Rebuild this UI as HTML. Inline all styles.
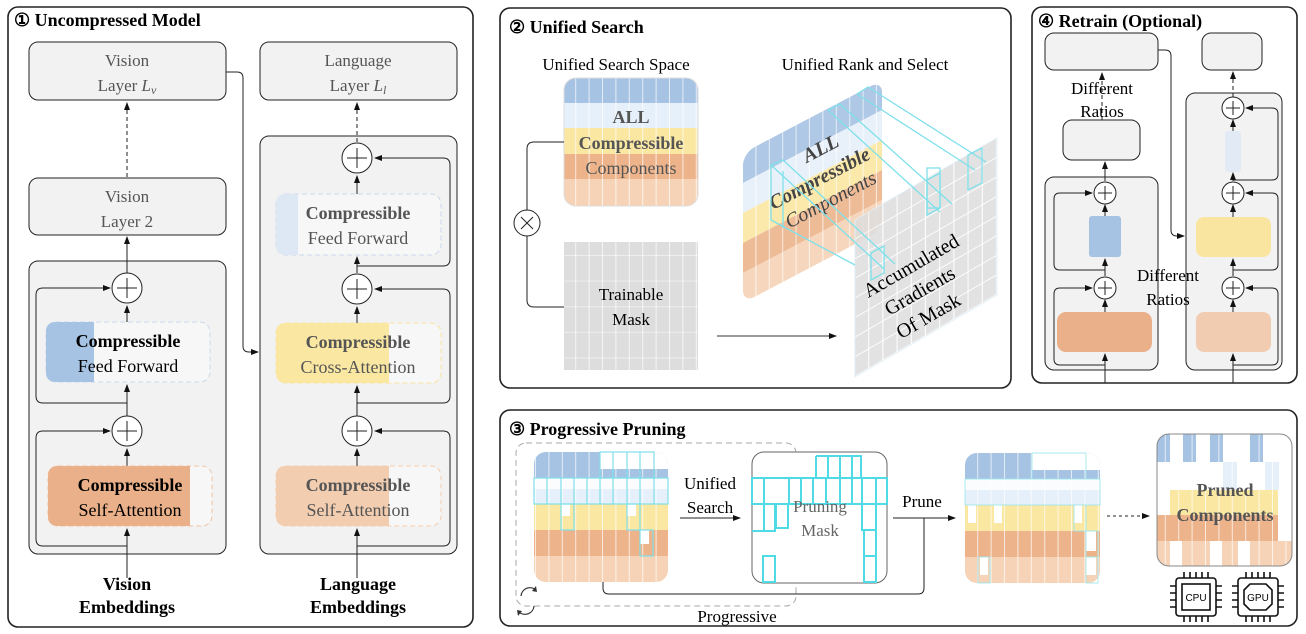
<!DOCTYPE html>
<html><head><meta charset="utf-8"><style>
html,body{margin:0;padding:0;background:#fff;}
svg{display:block;font-family:"Liberation Serif",serif;}
</style></head><body>
<svg width="1306" height="634" viewBox="0 0 1306 634" xmlns="http://www.w3.org/2000/svg">
<defs>
<marker id="ah" markerWidth="8" markerHeight="8" refX="7" refY="4" orient="auto" markerUnits="userSpaceOnUse"><path d="M0,1 L8,4 L0,7 Z" fill="#111"/></marker>
<pattern id="vl" width="13.4" height="10" patternUnits="userSpaceOnUse"><rect x="12.4" y="0" width="1" height="10" fill="#fff" opacity="0.7"/></pattern>
<pattern id="gl" width="13.4" height="25.6" patternUnits="userSpaceOnUse"><rect x="12.4" y="0" width="1" height="25.6" fill="#fff" opacity="0.7"/><rect x="0" y="24.6" width="13.4" height="1" fill="#fff" opacity="0.5"/></pattern>
<pattern id="mk" width="14.2" height="19.6" patternUnits="userSpaceOnUse"><rect width="14.2" height="19.6" fill="#fff"/><rect x="0" y="0" width="13.2" height="18.6" fill="#ddd"/></pattern>
</defs>

<!-- ============ PANEL 1 ============ -->
<rect x="8" y="7" width="465" height="620" rx="10" fill="#fff" stroke="#222" stroke-width="1.6"/>
<text x="14" y="26" font-size="18" font-weight="bold">① Uncompressed Model</text>

<rect x="29" y="42" width="197" height="58" rx="9" fill="#f2f2f2" stroke="#222"/>
<text x="127" y="66" font-size="17" fill="#555" text-anchor="middle">Vision</text>
<text x="127" y="91" font-size="17" fill="#555" text-anchor="middle">Layer <tspan font-style="italic">L</tspan><tspan font-style="italic" font-size="12" dy="3">v</tspan></text>
<rect x="260" y="42" width="197" height="58" rx="9" fill="#f2f2f2" stroke="#222"/>
<text x="358" y="66" font-size="17" fill="#555" text-anchor="middle">Language</text>
<text x="358" y="91" font-size="17" fill="#555" text-anchor="middle">Layer <tspan font-style="italic">L</tspan><tspan font-style="italic" font-size="12" dy="3">l</tspan></text>

<line x1="127" y1="177" x2="127" y2="103" stroke="#222" stroke-dasharray="4,3" marker-end="url(#ah)"/>
<rect x="29" y="178" width="197" height="57" rx="9" fill="#f2f2f2" stroke="#222"/>
<text x="127" y="202" font-size="17" fill="#555" text-anchor="middle">Vision</text>
<text x="127" y="227" font-size="17" fill="#555" text-anchor="middle">Layer 2</text>

<!-- vision block -->
<rect x="29" y="261" width="197" height="293" rx="9" fill="#f2f2f2" stroke="#222"/>
<path d="M127,403 H43 Q36,403 36,396 V295 Q36,288 43,288 H110" fill="none" stroke="#222" marker-end="url(#ah)"/>
<path d="M127,546 H43 Q36,546 36,539 V438 Q36,431 43,431 H110" fill="none" stroke="#222" marker-end="url(#ah)"/>
<line x1="127" y1="273" x2="127" y2="237" stroke="#222" marker-end="url(#ah)"/>
<line x1="127" y1="322" x2="127" y2="306" stroke="#222" marker-end="url(#ah)"/>
<line x1="127" y1="416" x2="127" y2="385" stroke="#222" marker-end="url(#ah)"/>
<line x1="127" y1="466" x2="127" y2="449" stroke="#222" marker-end="url(#ah)"/>
<line x1="127" y1="578" x2="127" y2="529" stroke="#222" marker-end="url(#ah)"/>
<circle cx="127" cy="288" r="15" fill="#fff" stroke="#222"/><path d="M117,288H137M127,278V298" stroke="#222"/>
<circle cx="127" cy="431" r="15" fill="#fff" stroke="#222"/><path d="M117,431H137M127,421V441" stroke="#222"/>
<rect x="46" y="322" width="164" height="60" rx="10" fill="#f7f7f7" stroke="#c9d8ea" stroke-dasharray="5,3"/>
<path d="M56,322 H94 V382 H56 Q46,382 46,372 V332 Q46,322 56,322Z" fill="#a6c3e3"/>
<text x="128" y="347" font-size="18" font-weight="bold" text-anchor="middle">Compressible</text>
<text x="128" y="372" font-size="18" text-anchor="middle">Feed Forward</text>
<rect x="48" y="466" width="164" height="60" rx="10" fill="#f7f7f7" stroke="#f0c6a4" stroke-dasharray="5,3"/>
<path d="M58,466 H190 V526 H58 Q48,526 48,516 V476 Q48,466 58,466Z" fill="#e9b089"/>
<text x="130" y="491" font-size="18" font-weight="bold" text-anchor="middle">Compressible</text>
<text x="130" y="516" font-size="18" text-anchor="middle">Self-Attention</text>

<!-- language block -->
<rect x="260" y="136" width="197" height="418" rx="9" fill="#f2f2f2" stroke="#222"/>
<path d="M357,266 H443 Q450,266 450,259 V165 Q450,158 443,158 H375" fill="none" stroke="#222" marker-end="url(#ah)"/>
<path d="M357,403 H443 Q450,403 450,396 V296 Q450,289 443,289 H375" fill="none" stroke="#222" marker-end="url(#ah)"/>
<path d="M357,546 H443 Q450,546 450,539 V438 Q450,431 443,431 H375" fill="none" stroke="#222" marker-end="url(#ah)"/>
<line x1="357" y1="142" x2="357" y2="103" stroke="#222" stroke-dasharray="4,3" marker-end="url(#ah)"/>
<line x1="357" y1="194" x2="357" y2="176" stroke="#222" marker-end="url(#ah)"/>
<line x1="357" y1="273" x2="357" y2="257" stroke="#222" marker-end="url(#ah)"/>
<line x1="357" y1="323" x2="357" y2="307" stroke="#222" marker-end="url(#ah)"/>
<line x1="357" y1="416" x2="357" y2="386" stroke="#222" marker-end="url(#ah)"/>
<line x1="357" y1="466" x2="357" y2="449" stroke="#222" marker-end="url(#ah)"/>
<line x1="357" y1="578" x2="357" y2="529" stroke="#222" marker-end="url(#ah)"/>
<circle cx="357" cy="158" r="15" fill="#fff" stroke="#222"/><path d="M347,158H367M357,148V168" stroke="#222"/>
<circle cx="357" cy="289" r="15" fill="#fff" stroke="#222"/><path d="M347,289H367M357,279V299" stroke="#222"/>
<circle cx="357" cy="431" r="15" fill="#fff" stroke="#222"/><path d="M347,431H367M357,421V441" stroke="#222"/>
<rect x="276" y="194" width="165" height="61" rx="10" fill="#f7f7f7" stroke="#c9d8ea" stroke-dasharray="5,3"/>
<path d="M286,194 H298 V255 H286 Q276,255 276,245 V204 Q276,194 286,194Z" fill="#dde8f4"/>
<text x="358" y="219" font-size="18" font-weight="bold" fill="#555" text-anchor="middle">Compressible</text>
<text x="358" y="244" font-size="18" fill="#555" text-anchor="middle">Feed Forward</text>
<rect x="276" y="323" width="165" height="60" rx="10" fill="#f7f7f7" stroke="#f8e3a0" stroke-dasharray="5,3"/>
<path d="M286,323 H389 V383 H286 Q276,383 276,373 V333 Q276,323 286,323Z" fill="#fae7a1"/>
<text x="358" y="348" font-size="18" font-weight="bold" fill="#555" text-anchor="middle">Compressible</text>
<text x="358" y="373" font-size="18" fill="#555" text-anchor="middle">Cross-Attention</text>
<rect x="276" y="466" width="165" height="60" rx="10" fill="#f7f7f7" stroke="#f3cdb0" stroke-dasharray="5,3"/>
<path d="M286,466 H389 V526 H286 Q276,526 276,516 V476 Q276,466 286,466Z" fill="#f2cdb0"/>
<text x="358" y="491" font-size="18" font-weight="bold" fill="#555" text-anchor="middle">Compressible</text>
<text x="358" y="516" font-size="18" fill="#555" text-anchor="middle">Self-Attention</text>

<path d="M226,72 H237 Q243,72 243,78 V346 Q243,352 249,352 H258" fill="none" stroke="#222" marker-end="url(#ah)"/>

<text x="127" y="590" font-size="18" font-weight="bold" text-anchor="middle">Vision</text>
<text x="127" y="613" font-size="18" font-weight="bold" text-anchor="middle">Embeddings</text>
<text x="358" y="590" font-size="18" font-weight="bold" text-anchor="middle">Language</text>
<text x="358" y="613" font-size="18" font-weight="bold" text-anchor="middle">Embeddings</text>

<!-- ============ PANEL 2 ============ -->
<rect x="500" y="8" width="511" height="380" rx="10" fill="#fff" stroke="#222" stroke-width="1.6"/>
<text x="509" y="33" font-size="18" font-weight="bold">② Unified Search</text>
<text x="616" y="70" font-size="17" text-anchor="middle">Unified Search Space</text>
<text x="865" y="70" font-size="17" text-anchor="middle">Unified Rank and Select</text>

<clipPath id="c1"><rect x="564" y="78" width="134" height="128" rx="12"/></clipPath>
<g clip-path="url(#c1)">
<rect x="564" y="78" width="134" height="25" fill="#a6c3e3"/>
<rect x="564" y="103" width="134" height="25" fill="#e6f0fa"/>
<rect x="564" y="128" width="134" height="26" fill="#fae7a1"/>
<rect x="564" y="154" width="134" height="25" fill="#edb48c"/>
<rect x="564" y="179" width="134" height="27" fill="#f6d3b6"/>
<rect x="564" y="78" width="134" height="128" fill="url(#vl)"/>
</g>
<rect x="564" y="78" width="134" height="128" rx="12" fill="none" stroke="#ddd"/>
<text x="631" y="123" font-size="18" font-weight="bold" fill="#555" text-anchor="middle">ALL</text>
<text x="631" y="149" font-size="18" font-weight="bold" fill="#555" text-anchor="middle">Compressible</text>
<text x="631" y="174" font-size="18" fill="#555" text-anchor="middle">Components</text>

<rect x="564" y="242" width="134" height="128" fill="#ddd"/>
<rect x="564" y="242" width="134" height="128" fill="url(#gl)"/>
<text x="631" y="300" font-size="17" text-anchor="middle">Trainable</text>
<text x="631" y="325" font-size="17" text-anchor="middle">Mask</text>
<path d="M564,142 H534 Q527,142 527,149 V210 M527,236 V300 Q527,307 534,307 H564" fill="none" stroke="#222"/>
<circle cx="527" cy="223" r="13" fill="#fff" stroke="#222"/>
<path d="M521,217 L533,229 M533,217 L521,229" stroke="#222"/>
<line x1="717" y1="336" x2="836" y2="336" stroke="#333" marker-end="url(#ah)"/>

<!-- 3D left panel -->
<g transform="translate(743,153) skewY(-27.7)">
<clipPath id="c2"><rect x="0" y="0" width="139" height="150" rx="12"/></clipPath>
<g clip-path="url(#c2)" opacity="0.9">
<rect x="0" y="0" width="139" height="30" fill="#a6c3e3"/>
<rect x="0" y="30" width="139" height="30" fill="#e6f0fa"/>
<rect x="0" y="60" width="139" height="30" fill="#fae7a1"/>
<rect x="0" y="90" width="139" height="30" fill="#edb48c"/>
<rect x="0" y="120" width="139" height="30" fill="#f6d3b6"/>
<rect x="0" y="0" width="139" height="150" fill="url(#vl)"/>
</g>
</g>
<g font-style="italic" fill="#444" text-anchor="middle" transform="rotate(-27.7 815 170)">
<text x="830" y="160" font-size="20" font-weight="bold">ALL</text>
<text x="815" y="186" font-size="20" font-weight="bold">Compressible</text>
<text x="815" y="210" font-size="20">Components</text>
</g>
<!-- 3D right panel -->
<g transform="translate(855,220) skewY(-30)">
<rect x="0" y="0" width="142" height="157" fill="url(#mk)" opacity="0.85"/>
<rect x="0" y="0" width="142" height="157" fill="none" stroke="#e0eef5"/>
</g>
<g stroke="#7fe0ea" stroke-width="1.3" fill="none">
<path d="M771,165 L884,269 M771,165 V220 M783,171 V228"/>
<path d="M771,165 L783,160 L895,264 M771,220 L855,265"/>
<path d="M828,110 L940,212 M828,110 L840,104 L952,204"/>
<path d="M857,94 L975,170 M857,94 L868,87 L986,162"/>
<rect x="927" y="168" width="13" height="40" transform="skewY(0)"/>
<path d="M927,180 V215 L940,208 V173 Z"/>
<path d="M968,155 V190 L982,183 V148 Z"/>
<path d="M871,253 V280 L884,273 V246 Z"/>
</g>
<g text-anchor="middle" font-size="20" transform="rotate(-30 925 300)">
<text x="930" y="270">Accumulated</text>
<text x="925" y="296">Gradients</text>
<text x="920" y="322">Of Mask</text>
</g>

<!-- ============ PANEL 4 ============ -->
<rect x="1032" y="7" width="265" height="376" rx="10" fill="#fff" stroke="#222" stroke-width="1.6"/>
<text x="1038" y="27" font-size="18" font-weight="bold">④ Retrain (Optional)</text>
<rect x="1045" y="33" width="113" height="37" rx="9" fill="#f2f2f2" stroke="#222"/>
<rect x="1202" y="33" width="60" height="37" rx="9" fill="#f2f2f2" stroke="#222"/>
<line x1="1102" y1="120" x2="1102" y2="73" stroke="#222" stroke-dasharray="4,3" marker-end="url(#ah)"/>
<text x="1102" y="94" font-size="17" text-anchor="middle">Different</text>
<text x="1102" y="117" font-size="17" text-anchor="middle">Ratios</text>
<rect x="1063" y="120" width="77" height="40" rx="9" fill="#f2f2f2" stroke="#222"/>
<rect x="1045" y="177" width="113" height="193" rx="9" fill="#f2f2f2" stroke="#222"/>
<path d="M1105,270 H1060 Q1054,270 1054,264 V199 Q1054,193 1060,193 H1092" fill="none" stroke="#222" marker-end="url(#ah)"/>
<path d="M1105,365 H1060 Q1054,365 1054,359 V294 Q1054,288 1060,288 H1092" fill="none" stroke="#222" marker-end="url(#ah)"/>
<line x1="1105" y1="181" x2="1105" y2="162" stroke="#222" marker-end="url(#ah)"/>
<line x1="1105" y1="216" x2="1105" y2="205" stroke="#222" marker-end="url(#ah)"/>
<line x1="1105" y1="276" x2="1105" y2="259" stroke="#222" marker-end="url(#ah)"/>
<line x1="1105" y1="312" x2="1105" y2="300" stroke="#222" marker-end="url(#ah)"/>
<line x1="1105" y1="383" x2="1105" y2="354" stroke="#222" marker-end="url(#ah)"/>
<circle cx="1105" cy="193" r="11" fill="#fff" stroke="#222"/><path d="M1098,193H1112M1105,186V200" stroke="#222"/>
<circle cx="1105" cy="288" r="11" fill="#fff" stroke="#222"/><path d="M1098,288H1112M1105,281V295" stroke="#222"/>
<rect x="1089" y="216" width="32" height="41" rx="3" fill="#a6c3e3"/>
<rect x="1057" y="312" width="95" height="40" rx="9" fill="#e9b089"/>

<rect x="1186" y="93" width="96" height="277" rx="9" fill="#f2f2f2" stroke="#222"/>
<path d="M1233,180 H1272 Q1278,180 1278,174 V114 Q1278,108 1272,108 H1246" fill="none" stroke="#222" marker-end="url(#ah)"/>
<path d="M1233,270 H1272 Q1278,270 1278,264 V199 Q1278,193 1272,193 H1246" fill="none" stroke="#222" marker-end="url(#ah)"/>
<path d="M1233,365 H1272 Q1278,365 1278,359 V294 Q1278,288 1272,288 H1246" fill="none" stroke="#222" marker-end="url(#ah)"/>
<line x1="1233" y1="97" x2="1233" y2="72" stroke="#222" stroke-dasharray="4,3" marker-end="url(#ah)"/>
<line x1="1233" y1="131" x2="1233" y2="120" stroke="#222" marker-end="url(#ah)"/>
<line x1="1233" y1="181" x2="1233" y2="173" stroke="#222" marker-end="url(#ah)"/>
<line x1="1233" y1="217" x2="1233" y2="205" stroke="#222" marker-end="url(#ah)"/>
<line x1="1233" y1="276" x2="1233" y2="259" stroke="#222" marker-end="url(#ah)"/>
<line x1="1233" y1="312" x2="1233" y2="300" stroke="#222" marker-end="url(#ah)"/>
<line x1="1233" y1="383" x2="1233" y2="354" stroke="#222" marker-end="url(#ah)"/>
<circle cx="1233" cy="108" r="11" fill="#fff" stroke="#222"/><path d="M1226,108H1240M1233,101V115" stroke="#222"/>
<circle cx="1233" cy="193" r="11" fill="#fff" stroke="#222"/><path d="M1226,193H1240M1233,186V200" stroke="#222"/>
<circle cx="1233" cy="288" r="11" fill="#fff" stroke="#222"/><path d="M1226,288H1240M1233,281V295" stroke="#222"/>
<rect x="1225" y="131" width="16" height="41" rx="3" fill="#e1eaf5"/>
<rect x="1196" y="217" width="75" height="40" rx="8" fill="#fae5a0"/>
<rect x="1196" y="312" width="75" height="40" rx="8" fill="#f1ccb0"/>
<path d="M1158,50 H1165 Q1171,50 1171,56 V230 Q1171,236 1177,236 H1184" fill="none" stroke="#222" marker-end="url(#ah)"/>
<text x="1168" y="281" font-size="17" text-anchor="middle">Different</text>
<text x="1168" y="305" font-size="17" text-anchor="middle">Ratios</text>

<!-- ============ PANEL 3 ============ -->
<rect x="500" y="410" width="797" height="216" rx="10" fill="#fff" stroke="#222" stroke-width="1.6"/>
<text x="509" y="435" font-size="18" font-weight="bold">③ Progressive Pruning</text>
<rect x="516" y="443" width="280" height="163" rx="10" fill="none" stroke="#aaa" stroke-dasharray="6,4"/>

<!-- grid 1 -->
<clipPath id="c3"><rect x="534" y="452" width="134" height="130" rx="12"/></clipPath>
<g clip-path="url(#c3)">
<rect x="534" y="452" width="134" height="26" fill="#a6c3e3"/>
<rect x="534" y="478" width="134" height="26" fill="#e6f0fa"/>
<rect x="534" y="504" width="134" height="26" fill="#fae7a1"/>
<rect x="534" y="530" width="134" height="26" fill="#edb48c"/>
<rect x="534" y="556" width="134" height="26" fill="#f6d3b6"/>
<rect x="534" y="452" width="134" height="130" fill="url(#vl)"/>
<rect x="600" y="452" width="68" height="17" fill="#fff"/>
<rect x="534" y="478" width="134" height="11" fill="#fff" opacity="0.8"/>
<rect x="561" y="504" width="9" height="12" fill="#fff"/>
<rect x="627" y="504" width="9" height="12" fill="#fff"/>
<rect x="640" y="530" width="9" height="14" fill="#fff"/>
</g>
<g stroke="#7fe0ea" stroke-width="1.2" fill="none">
<rect x="600" y="452" width="54" height="26"/>
<path d="M613,452V478M627,452V478M640,452V478"/>
<rect x="534" y="478" width="134" height="26"/>
<path d="M547,478V504M561,478V504M574,478V504M587,478V504M600,478V504M613,478V504M627,478V504M640,478V504M654,478V504"/>
<rect x="561" y="504" width="13" height="26"/><rect x="627" y="504" width="13" height="26"/>
<rect x="640" y="530" width="13" height="26"/>
</g>

<text x="710" y="489" font-size="17" text-anchor="middle">Unified</text>
<text x="710" y="513" font-size="17" text-anchor="middle">Search</text>
<line x1="680" y1="518" x2="740" y2="518" stroke="#222" marker-end="url(#ah)"/>

<!-- pruning mask -->
<rect x="752" y="452" width="135" height="131" rx="12" fill="#fff" stroke="#666"/>
<g stroke="#4fdbe6" stroke-width="2" fill="none">
<path d="M816,456 H861 V478 M816,456 V478 M828,456 V478 M840,456 V478 M852,456 V478"/>
<rect x="752" y="478" width="135" height="26"/>
<path d="M764,478V531 H752 M764,504 V531 H775 V504 M789,478V504 M801,478V504 M813,478V504 M826,478V504 M840,478V504 M852,478V504 M862,478V504 M876,478V504"/>
<path d="M776,504 V528 H788 V504"/>
<path d="M862,504 V530 H876 V504"/>
<rect x="864" y="530" width="12" height="26"/>
<rect x="864" y="556" width="12" height="26"/>
<rect x="763" y="556" width="12" height="26"/>
</g>
<text x="820" y="512" font-size="17" fill="#666" text-anchor="middle">Pruning</text>
<text x="820" y="536" font-size="17" fill="#666" text-anchor="middle">Mask</text>

<text x="922" y="507" font-size="17" text-anchor="middle">Prune</text>
<line x1="893" y1="518" x2="955" y2="518" stroke="#222" marker-end="url(#ah)"/>
<path d="M603,582 V588 Q603,594 609,594 H918 Q924,594 924,588 V518" fill="none" stroke="#222"/>
<text x="737" y="622" font-size="17" text-anchor="middle">Progressive</text>
<path d="M521,596 A9,9 0 0 1 536,590 M534,606 A9,9 0 0 1 519,612" fill="none" stroke="#333" stroke-width="1.2"/>
<path d="M536,586 L537,592 L532,591Z M518,616 L517,610 L522,611Z" fill="#333"/>

<!-- grid 3 -->
<clipPath id="c4"><rect x="965" y="453" width="135" height="130" rx="12"/></clipPath>
<g clip-path="url(#c4)">
<rect x="965" y="453" width="135" height="26" fill="#a6c3e3"/>
<rect x="965" y="479" width="135" height="26" fill="#e6f0fa"/>
<rect x="965" y="505" width="135" height="26" fill="#fae7a1"/>
<rect x="965" y="531" width="135" height="26" fill="#edb48c"/>
<rect x="965" y="557" width="135" height="26" fill="#f6d3b6"/>
<rect x="965" y="453" width="135" height="130" fill="url(#vl)"/>
<rect x="1032" y="453" width="68" height="17" fill="#fff"/>
<rect x="965" y="479" width="135" height="11" fill="#fff" opacity="0.8"/>
<rect x="968" y="505" width="8" height="18" fill="#fff"/>
<rect x="994" y="505" width="8" height="18" fill="#fff"/>
<rect x="1074" y="505" width="8" height="18" fill="#fff"/>
<rect x="1086" y="531" width="10" height="20" fill="#fff"/>
<rect x="980" y="557" width="8" height="18" fill="#fff"/>
<rect x="1086" y="557" width="10" height="18" fill="#fff"/>
</g>
<g stroke="#9fe6ec" stroke-width="1" fill="none" opacity="0.9">
<rect x="1032" y="453" width="54" height="26"/>
<rect x="965" y="479" width="135" height="26"/>
<rect x="1074" y="505" width="12" height="26"/><rect x="1086" y="531" width="12" height="26"/>
<rect x="978" y="557" width="12" height="26"/><rect x="1086" y="557" width="12" height="26"/>
</g>
<line x1="1107" y1="516" x2="1149" y2="516" stroke="#222" stroke-dasharray="3,3" marker-end="url(#ah)"/>

<!-- pruned components -->
<clipPath id="c5"><rect x="1157" y="434" width="135" height="132" rx="12"/></clipPath>
<g clip-path="url(#c5)">
<rect x="1157" y="434" width="135" height="132" fill="#fff"/>
<rect x="1157" y="434" width="13" height="28" fill="#a6c3e3"/>
<rect x="1183" y="434" width="13" height="28" fill="#a6c3e3"/>
<rect x="1210" y="434" width="13" height="28" fill="#a6c3e3"/>
<rect x="1250" y="434" width="13" height="28" fill="#a6c3e3"/>
<rect x="1223" y="462" width="14" height="28" fill="#e6f0fa"/>
<rect x="1265" y="462" width="14" height="28" fill="#e6f0fa"/>
<rect x="1170" y="490" width="122" height="25" fill="#fae7a1"/>
<rect x="1157" y="515" width="135" height="26" fill="#edb48c"/>
<rect x="1157" y="541" width="135" height="25" fill="#f6d3b6"/>
<rect x="1170" y="541" width="12" height="25" fill="#fff"/>
<rect x="1210" y="541" width="12" height="25" fill="#fff"/>
<rect x="1238" y="541" width="12" height="25" fill="#fff"/>
<rect x="1278" y="490" width="14" height="51" fill="#fff"/>
<rect x="1157" y="434" width="135" height="132" fill="url(#vl)"/>
</g>
<rect x="1157" y="434" width="135" height="132" rx="12" fill="none" stroke="#888"/>
<text x="1225" y="496" font-size="18" font-weight="bold" fill="#555" text-anchor="middle">Pruned</text>
<text x="1225" y="521" font-size="18" font-weight="bold" fill="#555" text-anchor="middle">Components</text>

<!-- CPU / GPU -->
<g stroke="#111" fill="none" stroke-width="1.6">
<rect x="1176" y="578" width="40" height="38" rx="3"/>
<rect x="1182" y="584" width="28" height="26"/>
<path d="M1184,572V578M1190,572V578M1196,572V578M1202,572V578M1208,572V578M1184,616V622M1190,616V622M1196,616V622M1202,616V622M1208,616V622M1170,586H1176M1170,593H1176M1170,600H1176M1170,607H1176M1216,586H1222M1216,593H1222M1216,600H1222M1216,607H1222"/>
<rect x="1238" y="578" width="40" height="38" rx="3"/>
<path d="M1250,584H1266L1272,590V604L1266,610H1250L1244,604V590Z"/>
<path d="M1246,572V578M1252,572V578M1258,572V578M1264,572V578M1270,572V578M1246,616V622M1252,616V622M1258,616V622M1264,616V622M1270,616V622M1232,586H1238M1232,593H1238M1232,600H1238M1232,607H1238M1278,586H1284M1278,593H1284M1278,600H1284M1278,607H1284"/>
</g>
<text x="1196" y="601" font-size="10" font-family="Liberation Sans" text-anchor="middle">CPU</text>
<text x="1258" y="601" font-size="10" font-family="Liberation Sans" text-anchor="middle">GPU</text>
</svg>
</body></html>
